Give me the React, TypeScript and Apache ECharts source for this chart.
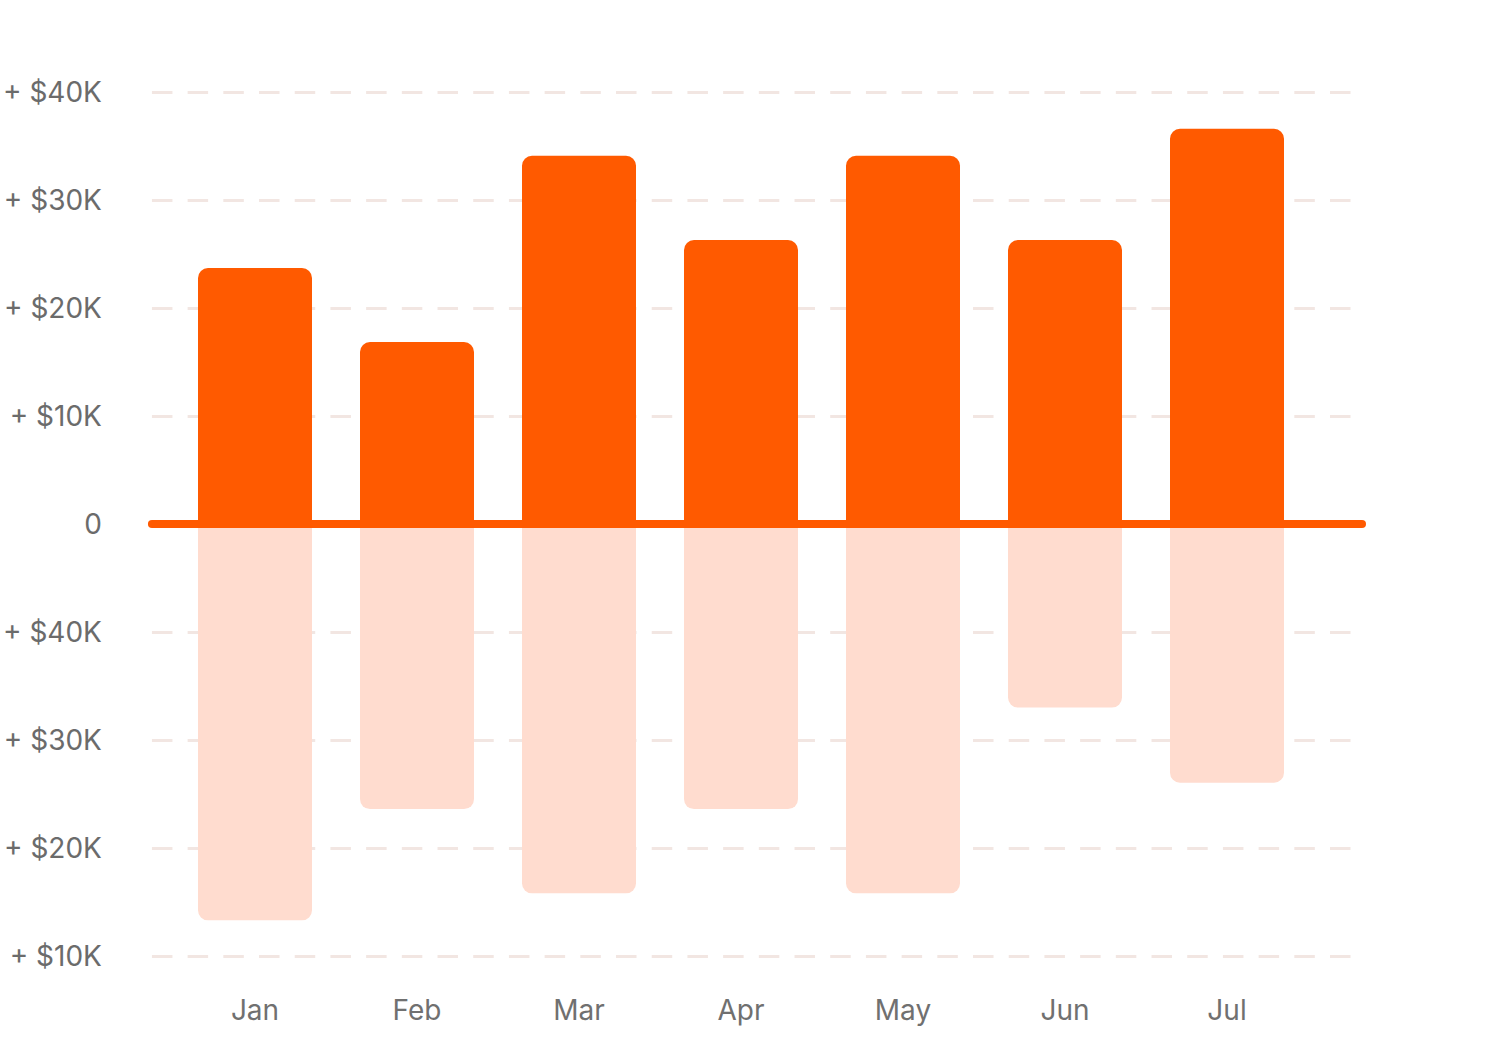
import React, { useEffect, useRef } from "react";
import * as echarts from "echarts";

const months = ["Jan", "Feb", "Mar", "Apr", "May", "Jun", "Jul"];
const upperValues = [23700, 16850, 34100, 26300, 34100, 26300, 36600];
const lowerValues = [-36700, -26400, -34200, -26400, -34200, -17000, -23950];
const yTickValues = [-40000, -30000, -20000, -10000, 0, 10000, 20000, 30000, 40000];
const yTickLabels = ["+ $10K", "+ $20K", "+ $30K", "+ $40K", "0", "+ $10K", "+ $20K", "+ $30K", "+ $40K"];

const ORANGE = "#FF5A00";
const PEACH = "#FFDCCF";
const FONT = "Inter, 'Noto Sans', sans-serif";

export default function App() {
  const ref = useRef<HTMLDivElement>(null);

  useEffect(() => {
    document.body.style.margin = "0";
    if (!ref.current) return;
    const chart = echarts.init(ref.current, null, { renderer: "svg" });
    const labelFor = (v: number) => {
      const i = yTickValues.indexOf(v);
      return i >= 0 ? yTickLabels[i] : "";
    };
    chart.setOption({
      animation: false,
      backgroundColor: "#ffffff",
      grid: [
        { left: 150, right: 138, top: 92, bottom: 94 },
        { left: 174, width: 1134, top: 92, bottom: 94 },
      ],
      xAxis: [
        {
          type: "value",
          gridIndex: 0,
          min: 0,
          max: 1,
          z: 10,
          axisLine: {
            show: true,
            onZero: true,
            lineStyle: { color: ORANGE, width: 8, cap: "round" },
          },
          axisTick: { show: false },
          axisLabel: { show: false },
          splitLine: { show: false },
        },
        {
          type: "category",
          gridIndex: 1,
          data: months,
          axisLine: { show: false },
          axisTick: { show: false },
          axisLabel: {
            color: "#707070",
            fontSize: 28,
            fontFamily: FONT,
            margin: 40,
          },
        },
      ],
      yAxis: [
        {
          type: "value",
          gridIndex: 0,
          min: -40000,
          max: 40000,
          interval: 10000,
          axisLine: { show: false },
          axisTick: { show: false },
          axisLabel: {
            color: "#6b6b6b",
            fontSize: 28,
            fontFamily: FONT,
            margin: 50,
            padding: [6, 0, 0, 0],
            formatter: (v: number) => labelFor(v),
          },
          splitLine: {
            show: true,
            lineStyle: { color: "#f2e6e2", width: 3, type: [20.5, 15.2] },
          },
        },
        {
          type: "value",
          gridIndex: 1,
          min: -40000,
          max: 40000,
          interval: 10000,
          show: false,
          splitLine: { show: false },
        },
      ],
      series: [
        {
          type: "bar",
          xAxisIndex: 1,
          yAxisIndex: 1,
          stack: "total",
          data: upperValues,
          barWidth: 114,
          itemStyle: { color: ORANGE, borderRadius: [10, 10, 0, 0] },
        },
        {
          type: "bar",
          xAxisIndex: 1,
          yAxisIndex: 1,
          stack: "total",
          data: lowerValues,
          barWidth: 114,
          itemStyle: { color: PEACH, borderRadius: [0, 0, 10, 10] },
        },
      ],
    });
    return () => chart.dispose();
  }, []);

  return <div ref={ref} style={{ width: 1500, height: 1050 }} />;
}
